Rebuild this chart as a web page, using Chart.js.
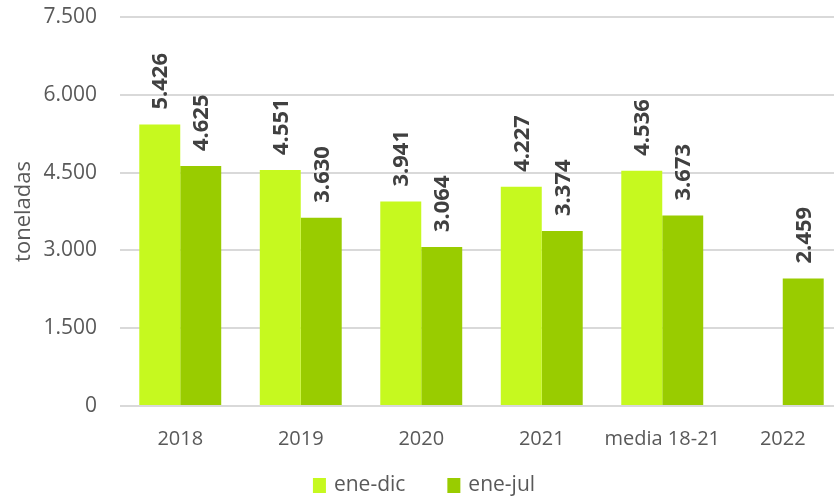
<!DOCTYPE html>
<html lang="es">
<head>
  <meta charset="UTF-8">
  <title>Toneladas</title>
  <script src="https://cdn.jsdelivr.net/npm/chart.js"></script>
  <style>
    body { margin: 0; padding: 0; background: #fff; overflow: hidden; }
    /* el gráfico original queda cortado por la derecha */
    .wrap { width: 843px; height: 499px; }
  </style>
</head>
<body>
  <div class="wrap"><canvas id="grafico"></canvas></div>
  <script>
    // Datos
    const categorias = ['2018', '2019', '2020', '2021', 'media 18-21', '2022'];
    const eneDic = [5426, 4551, 3941, 4227, 4536, null];
    const eneJul = [4625, 3630, 3064, 3374, 3673, 2459];
    const ticksY = [0, 1500, 3000, 4500, 6000, 7500];

    const fuente = "'Open Sans', 'Noto Sans', sans-serif";
    const gris = '#595959';
    const formato = v => v.toString().replace(/\B(?=(\d{3})+(?!\d))/g, '.');

    // Etiquetas verticales encima de cada barra
    const etiquetas = {
      id: 'etiquetas',
      afterDatasetsDraw(chart) {
        const ctx = chart.ctx;
        ctx.save();
        ctx.fillStyle = '#404040';
        ctx.font = 'bold 22px ' + fuente;
        ctx.textAlign = 'left';
        ctx.textBaseline = 'middle';
        chart.data.datasets.forEach((ds, i) => {
          chart.getDatasetMeta(i).data.forEach((bar, j) => {
            const v = ds.data[j];
            if (v === null) return;
            ctx.save();
            ctx.translate(bar.x + 1, bar.y - 15);
            ctx.rotate(-Math.PI / 2);
            ctx.fillText(formato(v), 0, 0);
            ctx.restore();
          });
        });
        ctx.restore();
      }
    };

    // Leyenda propia (la de Chart.js no deja separar items sin añadir alto)
    const leyenda = {
      id: 'leyenda',
      afterDraw(chart) {
        const ctx = chart.ctx;
        const caja = 13, hueco = 8, sep = 42, y = 485.5, centro = 424;
        ctx.save();
        ctx.font = '21px ' + fuente;
        ctx.textBaseline = 'middle';
        const items = chart.data.datasets.map(ds => ({
          texto: ds.label, color: ds.backgroundColor, ancho: ctx.measureText(ds.label).width
        }));
        const total = items.reduce((s, it) => s + caja + hueco + it.ancho, 0) + sep * (items.length - 1);
        let x = centro - total / 2;
        items.forEach(it => {
          ctx.fillStyle = it.color;
          ctx.fillRect(x, y - 7.5, caja, 15);
          x += caja + hueco;
          ctx.fillStyle = gris;
          ctx.fillText(it.texto, x, y);
          x += it.ancho + sep;
        });
        ctx.restore();
      }
    };

    new Chart(document.getElementById('grafico'), {
      type: 'bar',
      data: {
        labels: categorias,
        datasets: [
          { label: 'ene-dic', data: eneDic, backgroundColor: '#c6f91f' },
          { label: 'ene-jul', data: eneJul, backgroundColor: '#99cc00' }
        ]
      },
      options: {
        responsive: true,
        maintainAspectRatio: false,
        animation: false,
        categoryPercentage: 0.68,
        barPercentage: 1,
        layout: { padding: { top: 0, right: 0, left: 0, bottom: 27 } },
        plugins: {
          legend: { display: false },
          tooltip: { enabled: false }
        },
        scales: {
          x: {
            grid: { display: false, drawTicks: false },
            border: { display: false },
            ticks: {
              color: gris, font: { family: fuente, size: 20 }, padding: 21,
              maxRotation: 0, minRotation: 0, autoSkip: false
            }
          },
          y: {
            min: 0, max: 7500,
            afterBuildTicks: axis => { axis.ticks = ticksY.map(v => ({ value: v })); },
            afterFit: s => { s.width = 120; s.paddingTop = 17; s.paddingBottom = 0; },
            grid: { color: '#d9d9d9', lineWidth: 2, drawTicks: false },
            border: { display: false },
            ticks: {
              color: gris, padding: 23,
              font: { family: fuente, size: 21 },
              callback: v => formato(v)
            },
            title: {
              display: true, text: 'toneladas', color: gris,
              font: { family: fuente, size: 22 }, padding: { top: 11, bottom: 4 }
            }
          }
        }
      },
      plugins: [etiquetas, leyenda]
    });
  </script>
</body>
</html>
